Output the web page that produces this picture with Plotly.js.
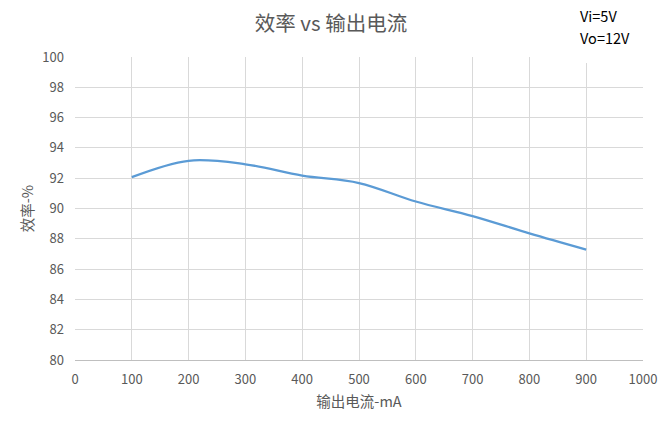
<!DOCTYPE html>
<html>
<head>
<meta charset="utf-8">
<script src="https://cdn.plot.ly/plotly-3.0.1.min.js"></script>
<style>
	html, body { margin: 0; padding: 0; background: #fff; }
	#chart { width: 666px; height: 428px; }
</style>
</head>
<body>
<div id="chart"></div>
<script>
(function () {

	'use strict';

	// output current (mA) and efficiency (%)
	const currentMA = [100, 200, 300, 400, 500, 600, 700, 800, 900];
	const efficiency = [92.07, 93.15, 92.92, 92.17, 91.68, 90.46, 89.5, 88.36, 87.29];

	const xTicks = [0, 100, 200, 300, 400, 500, 600, 700, 800, 900, 1000];
	const yTicks = [80, 82, 84, 86, 88, 90, 92, 94, 96, 98, 100];

	// text box lines (upper right)
	const noteLines = ['Vi=5V', 'Vo=12V'];

	const fontFamily = '"Noto Sans CJK SC", "Noto Sans", sans-serif';
	const grey = '#595959';
	const gridGrey = '#d9d9d9';

	const trace = {
		x: currentMA,
		y: efficiency,
		type: 'scatter',
		mode: 'lines',
		line: { color: '#5b9bd5', width: 2.25, shape: 'spline', smoothing: 1 },
		hoverinfo: 'x+y'
	};

	// one annotation per line so they don't crowd each other
	const noteY = [1.136, 1.066];
	const notes = noteLines.map((t, i) => ({
		xref: 'paper', yref: 'paper',
		x: 0.886, y: noteY[i],
		xanchor: 'left', yanchor: 'middle',
		align: 'left',
		showarrow: false,
		text: t,
		font: { family: fontFamily, size: 14.5, color: '#000' }
	}));

	const layout = {
		width: 666,
		height: 428,
		margin: { l: 75, r: 23, t: 57, b: 68 },
		paper_bgcolor: '#fff',
		plot_bgcolor: '#fff',
		font: { family: fontFamily, color: grey, size: 13 },
		showlegend: false,
		title: {
			text: '效率 vs 输出电流',
			font: { family: fontFamily, size: 20.5, color: grey },
			x: 0.497,
			xanchor: 'center',
			y: 0.945,
			yanchor: 'middle'
		},
		xaxis: {
			range: [0, 1000],
			tickvals: xTicks,
			ticktext: xTicks.map(String),
			showgrid: true,
			gridcolor: gridGrey,
			gridwidth: 1,
			zeroline: false,
			showline: true,
			linecolor: '#bfbfbf',
			linewidth: 1,
			ticks: '',
			ticklabelstandoff: 7,
			tickfont: { size: 13, color: grey },
			title: { text: '输出电流-mA', font: { size: 14.5, color: grey }, standoff: 10 }
		},
		yaxis: {
			range: [80, 100],
			tickvals: yTicks,
			ticktext: yTicks.map(String),
			showgrid: true,
			gridcolor: gridGrey,
			gridwidth: 1,
			zeroline: false,
			showline: false,
			ticks: '',
			ticklabelstandoff: 10,
			tickfont: { size: 13, color: grey },
			title: { text: '效率-%', font: { size: 14.5, color: grey }, standoff: 5 }
		},
		// white text box in the upper right corner
		shapes: [{
			type: 'rect',
			xref: 'paper', yref: 'paper',
			x0: 0.868, x1: 1.05,
			y0: 0.98, y1: 1.2,
			fillcolor: '#fff',
			line: { width: 0 },
			layer: 'above'
		}],
		annotations: notes
	};

	Plotly.newPlot('chart', [trace], layout, { displayModeBar: false, staticPlot: true });

})();
</script>
</body>
</html>
